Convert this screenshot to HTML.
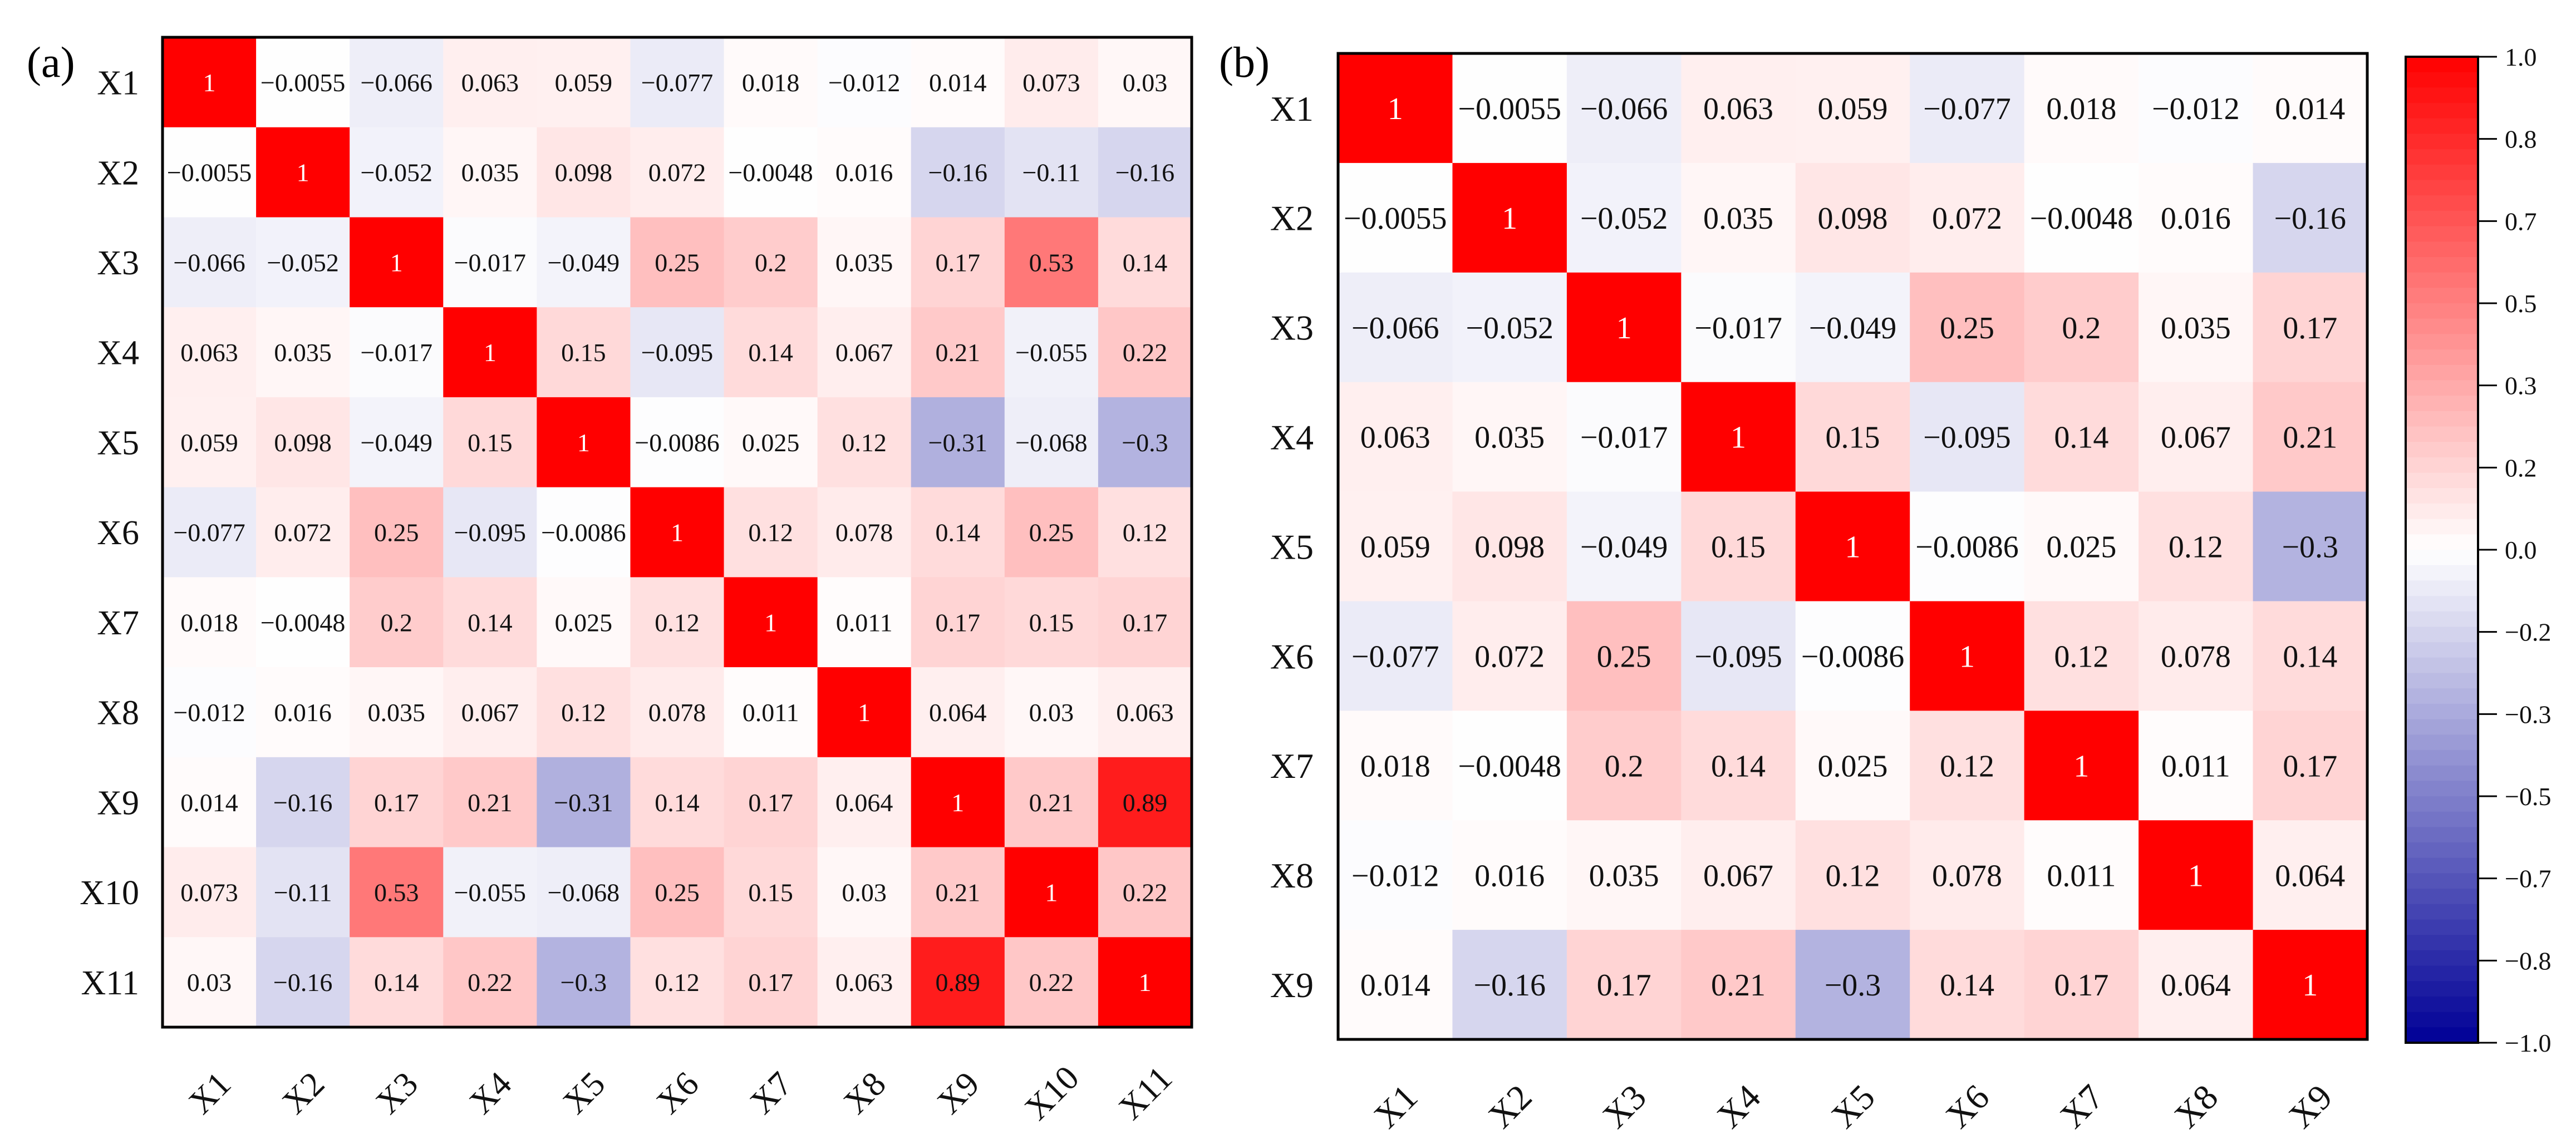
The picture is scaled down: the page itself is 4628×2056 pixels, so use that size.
<!DOCTYPE html>
<html><head><meta charset="utf-8"><style>
html,body{margin:0;padding:0;background:#fff;}
svg{display:block;font-family:"Liberation Serif",serif;}
</style></head><body>
<svg id="fig" width="4628" height="2056" viewBox="0 0 4628 2056" xmlns="http://www.w3.org/2000/svg">
<rect width="4628" height="2056" fill="#fff"/>
<text x="48" y="138" font-size="78">(a)</text>
<text x="2190" y="138" font-size="78">(b)</text>
<g id="pa"></g>
<g id="pb"></g>
<g id="cb"></g>
</svg>
<script>
const labelsA = ["X1","X2","X3","X4","X5","X6","X7","X8","X9","X10","X11"];
const matrixA = [
[1,-0.0055,-0.066,0.063,0.059,-0.077,0.018,-0.012,0.014,0.073,0.03],
[-0.0055,1,-0.052,0.035,0.098,0.072,-0.0048,0.016,-0.16,-0.11,-0.16],
[-0.066,-0.052,1,-0.017,-0.049,0.25,0.2,0.035,0.17,0.53,0.14],
[0.063,0.035,-0.017,1,0.15,-0.095,0.14,0.067,0.21,-0.055,0.22],
[0.059,0.098,-0.049,0.15,1,-0.0086,0.025,0.12,-0.31,-0.068,-0.3],
[-0.077,0.072,0.25,-0.095,-0.0086,1,0.12,0.078,0.14,0.25,0.12],
[0.018,-0.0048,0.2,0.14,0.025,0.12,1,0.011,0.17,0.15,0.17],
[-0.012,0.016,0.035,0.067,0.12,0.078,0.011,1,0.064,0.03,0.063],
[0.014,-0.16,0.17,0.21,-0.31,0.14,0.17,0.064,1,0.21,0.89],
[0.073,-0.11,0.53,-0.055,-0.068,0.25,0.15,0.03,0.21,1,0.22],
[0.03,-0.16,0.14,0.22,-0.3,0.12,0.17,0.063,0.89,0.22,1]];
const labelsB = ["X1","X2","X3","X4","X5","X6","X7","X8","X9"];
const matrixB = [
[1,-0.0055,-0.066,0.063,0.059,-0.077,0.018,-0.012,0.014],
[-0.0055,1,-0.052,0.035,0.098,0.072,-0.0048,0.016,-0.16],
[-0.066,-0.052,1,-0.017,-0.049,0.25,0.2,0.035,0.17],
[0.063,0.035,-0.017,1,0.15,-0.095,0.14,0.067,0.21],
[0.059,0.098,-0.049,0.15,1,-0.0086,0.025,0.12,-0.3],
[-0.077,0.072,0.25,-0.095,-0.0086,1,0.12,0.078,0.14],
[0.018,-0.0048,0.2,0.14,0.025,0.12,1,0.011,0.17],
[-0.012,0.016,0.035,0.067,0.12,0.078,0.011,1,0.064],
[0.014,-0.16,0.17,0.21,-0.3,0.14,0.17,0.064,1]];
const cbTicks = ["1.0","0.8","0.7","0.5","0.3","0.2","0.0","\u22120.2","\u22120.3","\u22120.5","\u22120.7","\u22120.8","\u22121.0"];

const NS="http://www.w3.org/2000/svg";
function mk(tag, attrs, parent){const e=document.createElementNS(NS,tag);for(const k in attrs)e.setAttribute(k,attrs[k]);parent.appendChild(e);return e;}
function color(v){
  if(v>=0){const c=Math.round(255*(1-v));return `rgb(255,${c},${c})`;}
  const a=-v;return `rgb(${Math.round(255*(1-a))},${Math.round(255*(1-a))},${Math.round(255-105*a)})`;
}
function fmt(v){return v===1?"1":String(v).replace("-","\u2212");}

function heatmap(g, labels, M, x0, y0, x1, y1, fs, lfs, ylabRight, xlabY){
  const n=labels.length, cw=(x1-x0)/n, ch=(y1-y0)/n;
  const xs=i=>x0+i*cw, ys=i=>y0+i*ch;
  for(let r=0;r<n;r++)for(let c=0;c<n;c++){
    const v=M[r][c];
    const rc=mk("rect",{x:xs(c),y:ys(r),width:cw+0.5,height:ch+0.5,fill:color(v)},g);
    
    
    const t=mk("text",{x:xs(c)+cw/2,y:ys(r)+ch/2+fs*0.35,"text-anchor":"middle","font-size":fs,fill:v===1?"#fff":"#111"},g);
    
    
    t.textContent=fmt(v);
  }
  mk("rect",{x:x0,y:y0,width:x1-x0,height:y1-y0,fill:"none",stroke:"#000","stroke-width":5},g);
  labels.forEach((l,i)=>{
    const t=mk("text",{x:ylabRight,y:ys(i)+ch/2+lfs*0.35,"text-anchor":"end","font-size":lfs,fill:"#111"},g);
    
    
    t.textContent=l;
    const cx=xs(i)+cw/2;
    const u=mk("text",{x:cx,y:xlabY,"text-anchor":"middle","font-size":lfs,fill:"#111",transform:`rotate(-45 ${cx} ${xlabY-lfs*0.35})`},g);
    
    
    u.textContent=l;
  });
}
heatmap(document.getElementById("pa"),labelsA,matrixA,292,67,2141,1846,46,62,250,1985);
heatmap(document.getElementById("pb"),labelsB,matrixB,2404,96,4253,1868,56,64,2360,2010);

// colorbar
const cb=document.getElementById("cb");
const cx0=4322,cx1=4452,cy0=102,cy1=1874,steps=64;
for(let i=0;i<steps;i++){
  const v=1-2*(i+0.5)/steps;
  const r=mk("rect",{x:cx0,y:cy0+i*(cy1-cy0)/steps,width:cx1-cx0,height:(cy1-cy0)/steps+0.6,fill:color(v)},cb);
  
  
}
mk("rect",{x:cx0,y:cy0,width:cx1-cx0,height:cy1-cy0,fill:"none",stroke:"#000","stroke-width":4},cb);
cbTicks.forEach((l,i)=>{
  const y=cy0+i*(cy1-cy0)/(cbTicks.length-1);
  const tk=mk("line",{x1:cx1,x2:cx1+34,y1:y,y2:y,stroke:"#000","stroke-width":3},cb);
  
  
  const t=mk("text",{x:4500,y:y+16,"font-size":46,fill:"#111"},cb);
  
  
  t.textContent=l;
});
</script>
</body></html>
